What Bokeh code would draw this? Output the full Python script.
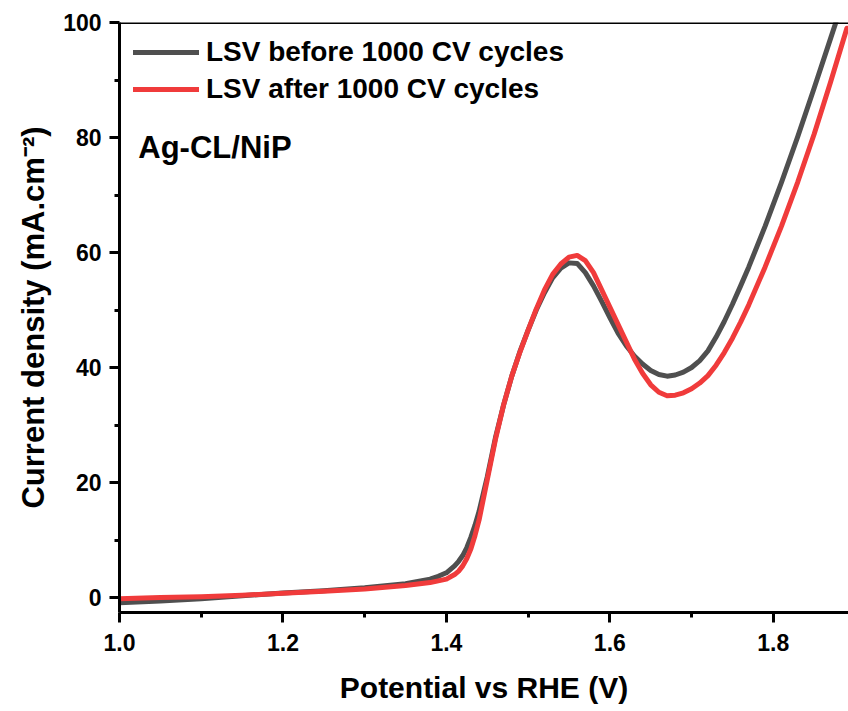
from bokeh.plotting import figure
from bokeh.models import Range1d, Span, Label, Legend, LegendItem, FixedTicker
from bokeh.embed import file_html
from bokeh.resources import INLINE

# ---- data ----
potential = [1.00, 1.05, 1.10, 1.15, 1.20, 1.25, 1.30, 1.35,
             1.38, 1.39, 1.40, 1.41, 1.415, 1.42, 1.425, 1.43, 1.435, 1.44,
             1.45, 1.46, 1.47, 1.48, 1.49, 1.50, 1.51, 1.52, 1.53, 1.54,
             1.55, 1.56, 1.57, 1.58, 1.59, 1.60, 1.61, 1.62, 1.63, 1.64,
             1.65, 1.66, 1.67, 1.68, 1.69, 1.70, 1.71, 1.72, 1.73, 1.74, 1.75,
             1.76, 1.77, 1.79, 1.81, 1.83, 1.85, 1.87, 1.89]
lsv_before = [-0.9, -0.6, -0.2, 0.3, 0.8, 1.2, 1.7, 2.4,
              3.2, 3.7, 4.3, 5.5, 6.3, 7.3, 8.7, 10.5, 12.6, 15.0,
              21.0, 27.8, 33.5, 38.5, 42.8, 46.5, 50.0, 53.0, 55.6, 57.3,
              58.2, 58.1, 56.5, 54.2, 51.5, 48.7, 46.0, 43.8, 42.0, 40.6,
              39.5, 38.8, 38.5, 38.7, 39.2, 40.0, 41.2, 42.9, 45.3, 48.0, 51.0,
              54.2, 57.5, 64.6, 72.2, 80.2, 88.6, 97.2, 105.8]
lsv_after = [-0.2, 0.0, 0.15, 0.4, 0.75, 1.1, 1.5, 2.1,
             2.6, 2.9, 3.2, 4.0, 4.6, 5.5, 6.8, 8.5, 10.8, 13.5,
             20.5, 27.5, 33.5, 38.5, 42.7, 46.5, 50.2, 53.5, 56.2, 58.0,
             59.2, 59.5, 58.6, 56.5, 53.5, 50.5, 47.5, 44.5, 41.5, 39.0,
             37.0, 35.7, 35.1, 35.2, 35.6, 36.3, 37.3, 38.6, 40.4, 42.6, 45.1,
             47.9, 50.9, 57.5, 64.6, 72.3, 80.6, 89.6, 99.0]
series_names = ["LSV before 1000 CV cycles", "LSV after 1000 CV cycles"]
x_ticks = [1.0, 1.2, 1.4, 1.6, 1.8]
x_minor = [1.1, 1.3, 1.5, 1.7]
y_ticks = [0, 20, 40, 60, 80, 100]
y_minor = [10, 30, 50, 70, 90]
sample_label = "Ag-CL/NiP"

FONT = "Liberation Sans"
GRAY = "#4f4f4f"
RED = "#f03b3b"

p = figure(width=848, height=707, output_backend="svg", toolbar_location=None,
           x_range=Range1d(1.0, 1.892), y_range=Range1d(-2.6, 100),
           min_border_left=119, min_border_right=0, min_border_top=22,
           min_border_bottom=95)
p.outline_line_color = None
p.grid.visible = False
p.background_fill_color = "white"
p.border_fill_color = "white"

r1 = p.line(potential, lsv_before, line_color=GRAY, line_width=5, line_join="round", line_cap="round")
r2 = p.line(potential, lsv_after, line_color=RED, line_width=5, line_join="round", line_cap="round")

for ax in (p.xaxis[0], p.yaxis[0]):
    ax.axis_line_width = 3
    ax.axis_line_color = "black"
    ax.major_tick_line_width = 3
    ax.minor_tick_line_width = 3
    ax.major_tick_out = 10
    ax.major_tick_in = 0
    ax.minor_tick_out = 5
    ax.minor_tick_in = 0
    ax.major_label_text_font = FONT
    ax.major_label_text_font_style = "bold"
    ax.major_label_text_font_size = "23px"
    ax.major_label_text_color = "black"
    ax.axis_label_text_font = FONT
    ax.axis_label_text_font_style = "bold"
    ax.axis_label_text_font_size = "30px"
    ax.axis_label_text_color = "black"

p.yaxis[0].axis_label_text_font_size = "31px"
p.xaxis[0].ticker = FixedTicker(ticks=x_ticks, minor_ticks=x_minor)
p.yaxis[0].ticker = FixedTicker(ticks=y_ticks, minor_ticks=y_minor)
p.xaxis[0].major_label_overrides = {v: f"{v:.1f}" for v in x_ticks}
p.xaxis[0].axis_label = "Potential vs RHE (V)"
p.yaxis[0].axis_label = "Current density (mA.cm\u207b\u00b2)"
p.xaxis[0].major_label_standoff = 11
p.xaxis[0].axis_label_standoff = 17
p.yaxis[0].major_label_standoff = 8
p.yaxis[0].axis_label_standoff = 9

# top frame line
p.add_layout(Span(location=100, dimension="width", line_color="black", line_width=3))

legend = Legend(items=[LegendItem(label=series_names[0], renderers=[r1]),
                       LegendItem(label=series_names[1], renderers=[r2])],
                location="top_left")
legend.border_line_color = None
legend.background_fill_alpha = 0
legend.margin = 14
legend.padding = 0
legend.spacing = 5
legend.glyph_width = 66
legend.glyph_height = 32
legend.label_standoff = 7
legend.label_text_font = FONT
legend.label_text_font_style = "bold"
legend.label_text_font_size = "28px"
legend.label_text_color = "black"
legend.label_height = 32
p.add_layout(legend)

p.add_layout(Label(x=1.023, y=78.3, text=sample_label, text_font=FONT,
                   text_font_style="bold", text_font_size="31px",
                   text_baseline="alphabetic", text_color="black"))

open("out.html", "w").write(file_html(p, INLINE))
